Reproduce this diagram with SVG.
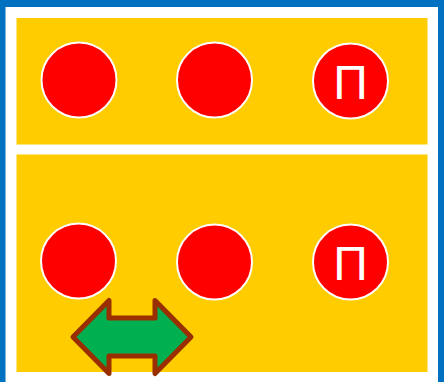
<svg xmlns="http://www.w3.org/2000/svg" width="444" height="382" viewBox="0 0 444 382">
<style>
.panel{fill:#FFCC00}
.node{fill:#FF0000;stroke:#FFFFFF;stroke-width:2}
.lbl{font-family:"Liberation Sans",Arial,sans-serif;font-size:48px;fill:#FFFFFF;text-anchor:middle}
</style>
<rect x="0" y="0" width="444" height="400" fill="#0070C0"/>
<rect x="5.5" y="7" width="432.5" height="390" fill="#FFFFFF"/>
<rect class="panel" x="16.5" y="18" width="411" height="126.5"/>
<rect class="panel" x="16.5" y="154.5" width="411" height="217.5"/>
<g id="n1"><circle class="node" cx="79" cy="80" r="37.5"/></g>
<g id="n2"><circle class="node" cx="214.5" cy="80" r="37.5"/></g>
<g id="n3"><circle class="node" cx="350.5" cy="81" r="37.5"/><text class="lbl" x="350.5" y="99">П</text></g>
<g id="n4"><circle class="node" cx="78.5" cy="261" r="37.5"/></g>
<g id="n5"><circle class="node" cx="214.5" cy="262" r="37.5"/></g>
<g id="n6"><circle class="node" cx="350.5" cy="262" r="37.5"/><text class="lbl" x="350.5" y="279.5">П</text></g>
<g id="connectors">
<path d="M73,337 L109,300.5 L109,318 L155,318 L155,300.5 L191,337 L155,373.5 L155,356 L109,356 L109,373.5 Z" fill="#00B050" stroke="#992E00" stroke-width="5" stroke-linejoin="round"/>
</g>
</svg>
